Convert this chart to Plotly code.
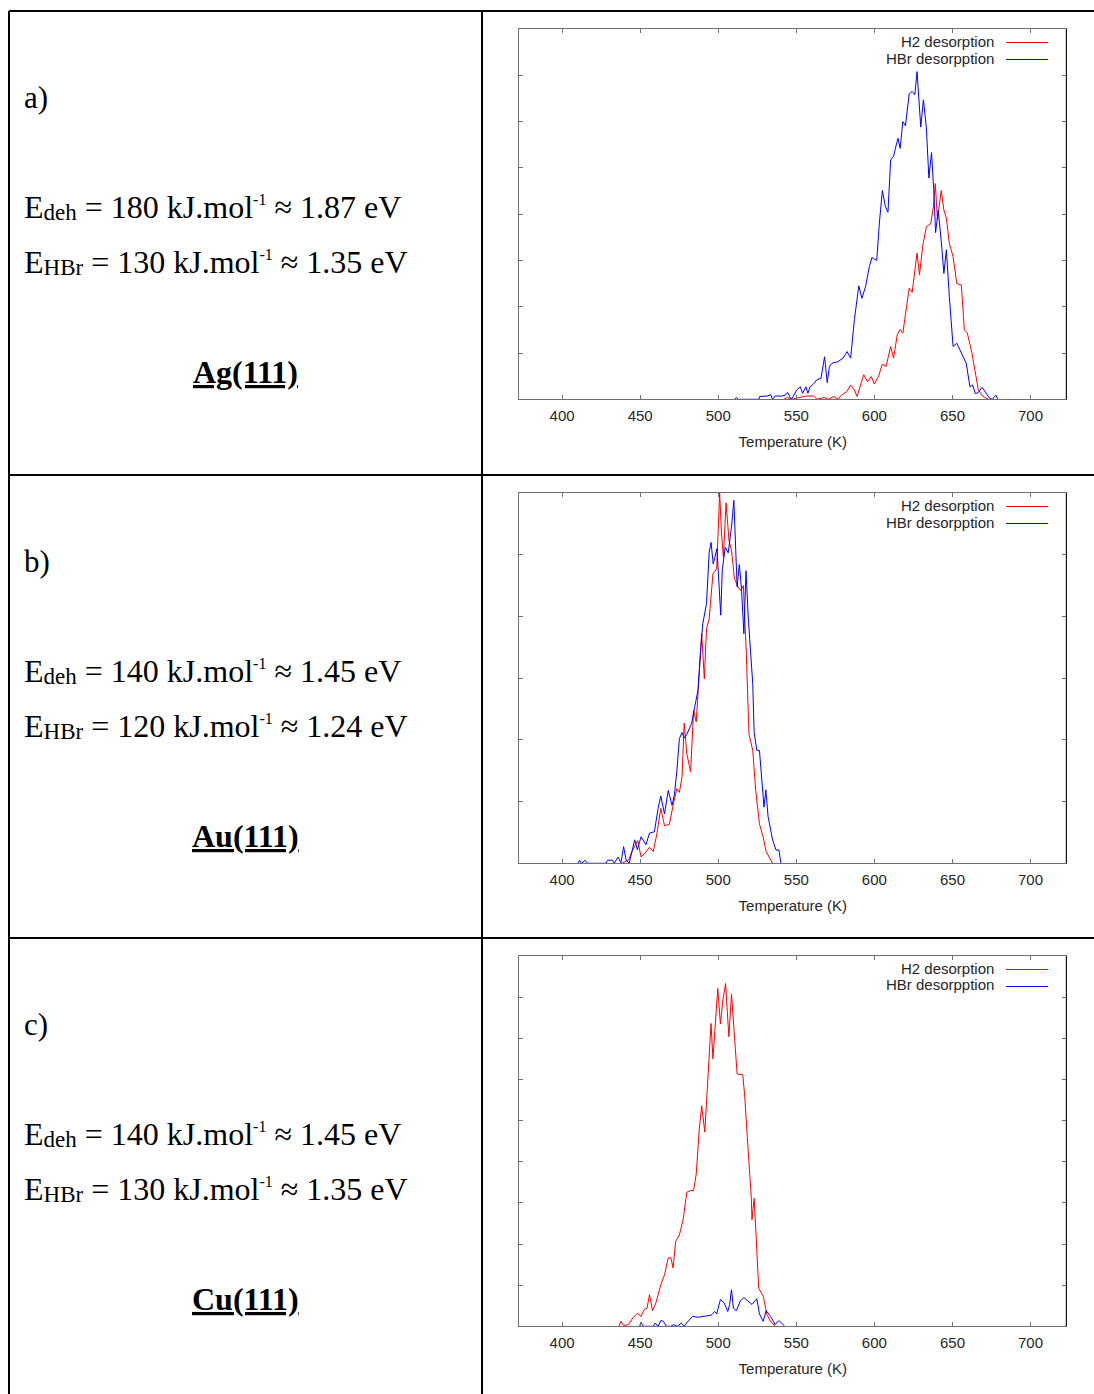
import plotly.graph_objects as go

W, H = 1094, 1394

# ---------------- data ----------------
temp_ticks = [400, 450, 500, 550, 600, 650, 700]
series_names = ["H2 desorption", "HBr desorpption"]
row_letters = ["a)", "b)", "c)"]
surfaces = ["Ag(111)", "Au(111)", "Cu(111)"]
e_deh_kj = [180, 140, 140]
e_deh_ev = ["1.87", "1.45", "1.45"]
e_hbr_kj = [130, 120, 130]
e_hbr_ev = ["1.35", "1.24", "1.35"]
y_max = [8, 6, 9]

# Ag(111)
ag_h2_T = [542.0, 544.3, 547.0, 551.4, 556.2, 561.0, 563.4, 568.1, 570.5, 574.1, 576.5, 578.9, 582.5,
           584.8, 587.2, 588.9, 590.8, 593.2, 595.6, 598.0, 599.9, 602.7, 605.1, 607.5, 610.4, 612.3,
           614.6, 616.5, 618.2, 619.9, 622.3, 624.2, 626.1, 627.3, 628.9, 630.9, 633.3, 636.1, 637.8,
           639.0, 640.4, 641.4, 642.8, 644.5, 646.1, 648.0, 650.4, 652.8, 655.7, 657.6, 659.5, 662.4,
           664.3, 666.6, 669.5, 673.1]
ag_h2_v = [0.0, 0.04, 0.0, 0.03, 0.07, 0.07, 0.0, 0.04, 0.0, 0.06, 0.0, 0.09, 0.17,
           0.31, 0.2, 0.06, 0.27, 0.53, 0.38, 0.49, 0.33, 0.5, 0.76, 0.71, 1.14, 0.89,
           1.39, 1.51, 1.43, 1.86, 2.4, 2.31, 2.83, 3.16, 2.69, 3.3, 3.73, 3.79, 4.17,
           4.66, 3.88, 4.1, 4.51, 4.09, 3.91, 3.37, 3.08, 2.5, 2.47, 1.5, 1.43, 1.01,
           0.63, 0.2, 0.06, 0.0]
ag_hbr_T = [510.4, 511.6, 512.8, 526.0, 526.5, 531.3, 533.6, 534.8, 536.4, 540.7, 543.0, 544.4, 546.7,
            548.0, 550.2, 552.6, 554.0, 556.2, 557.4, 558.8, 561.0, 563.4, 565.8, 568.1, 569.8, 571.2,
            572.9, 576.5, 580.0, 582.5, 584.8, 587.2, 590.0, 592.0, 594.4, 596.8, 598.4, 601.5, 603.2,
            605.1, 607.0, 608.7, 610.4, 612.3, 613.5, 615.1, 616.5, 618.2, 619.9, 622.3, 624.2, 625.9,
            627.3, 628.3, 629.7, 631.4, 633.3, 634.9, 636.6, 638.0, 639.2, 640.9, 642.1, 643.3, 644.5,
            646.1, 648.0, 650.4, 652.8, 655.7, 658.8, 661.2, 662.9, 664.7, 666.6, 669.0, 671.4, 673.8,
            675.5, 677.8, 679.0]
ag_hbr_v = [0.0, 0.04, 0.0, 0.0, 0.06, 0.07, 0.1, 0.0, 0.07, 0.07, 0.09, 0.15, 0.0,
            0.06, 0.2, 0.27, 0.13, 0.27, 0.13, 0.27, 0.33, 0.43, 0.45, 0.92, 0.36, 0.71,
            0.78, 0.81, 0.89, 1.03, 0.89, 1.72, 2.45, 2.18, 2.44, 2.87, 3.06, 3.0, 3.81,
            4.51, 4.17, 4.04, 5.17, 5.25, 5.43, 5.64, 5.42, 6.0, 5.91, 6.6, 6.65, 6.58,
            7.08, 6.47, 5.88, 6.47, 5.86, 4.78, 5.33, 4.53, 3.6, 4.09, 3.73, 3.23, 2.72,
            3.23, 2.22, 1.14, 1.21, 1.01, 0.78, 0.27, 0.31, 0.12, 0.15, 0.26, 0.13, 0.02,
            0.0, 0.09, 0.0]

# Au(111)
au_h2_T = [438.2, 442.5, 445.3, 448.4, 450.6, 453.0, 456.0, 458.4, 460.8, 463.2, 465.6, 468.7, 471.5,
           473.5, 475.1, 476.8, 478.2, 479.9, 482.3, 484.2, 485.9, 487.5, 489.4, 491.1, 492.5, 494.2,
           496.6, 499.0, 500.9, 502.1, 503.3, 505.0, 506.9, 508.5, 510.4, 512.6, 514.4, 516.1, 518.0,
           519.7, 522.1, 524.0, 526.4, 528.8, 530.7, 534.8]
au_h2_v = [0.0, 0.05, 0.22, 0.37, 0.1, 0.16, 0.26, 0.19, 0.49, 0.89, 0.61, 0.63, 0.99,
           1.21, 1.15, 1.39, 2.27, 1.77, 1.48, 2.48, 2.29, 2.99, 3.72, 2.99, 3.8, 3.96,
           4.69, 4.77, 6.0, 5.34, 4.96, 5.84, 5.23, 5.07, 4.61, 4.48, 4.42, 4.5, 3.39,
           2.09, 1.83, 1.18, 0.64, 0.42, 0.19, 0.0]
au_hbr_T = [410.0, 411.2, 412.4, 414.8, 416.2, 428.1, 429.1, 432.2, 433.4, 435.8, 437.7, 439.4, 441.0,
            443.0, 446.5, 448.2, 450.6, 453.7, 456.0, 459.1, 461.5, 463.2, 465.6, 468.0, 470.4, 472.0,
            473.5, 475.1, 476.8, 478.2, 479.9, 483.0, 484.9, 487.0, 488.7, 490.1, 492.5, 494.2, 495.4,
            496.8, 499.2, 500.6, 501.6, 502.6, 504.5, 506.4, 508.5, 510.0, 511.1, 512.1, 513.5, 514.9,
            516.4, 517.8, 519.2, 520.7, 522.1, 523.0, 524.7, 526.4, 528.3, 529.3, 530.5, 531.9, 534.8,
            537.1, 538.8, 540.2]
au_hbr_v = [0.0, 0.05, 0.0, 0.05, 0.0, 0.0, 0.05, 0.05, 0.0, 0.1, 0.01, 0.27, 0.05,
            0.0, 0.38, 0.22, 0.43, 0.3, 0.49, 0.51, 0.89, 1.09, 0.8, 1.18, 0.94, 1.12,
            1.5, 2.02, 2.12, 2.03, 2.09, 2.27, 2.53, 2.8, 3.45, 3.88, 4.21, 5.04, 5.2,
            4.85, 5.1, 4.45, 4.02, 4.76, 5.12, 5.03, 5.45, 5.88, 5.23, 4.48, 4.84, 4.45,
            3.72, 4.74, 3.99, 3.42, 2.91, 2.12, 1.83, 1.83, 1.18, 0.91, 1.19, 0.76, 0.38,
            0.21, 0.22, 0.0]

# Cu(111)
cu_h2_T = [436.3, 437.7, 439.4, 442.5, 445.3, 448.2, 450.6, 452.5, 454.4, 456.0, 457.9, 460.1, 463.2,
           465.6, 468.0, 469.6, 471.1, 472.7, 475.1, 477.5, 479.9, 482.3, 484.2, 485.9, 487.8, 489.4,
           491.4, 493.0, 495.4, 496.6, 498.3, 499.7, 501.4, 503.0, 504.7, 505.9, 506.8, 508.5, 510.4,
           512.1, 515.7, 516.9, 519.2, 521.2, 521.6, 523.0, 524.0, 525.9, 528.8, 531.2, 533.6, 536.4]
cu_h2_v = [0.0, 0.12, 0.02, 0.04, 0.2, 0.32, 0.24, 0.4, 0.44, 0.77, 0.38, 0.57, 1.01,
           1.25, 1.66, 1.67, 1.42, 2.06, 2.22, 2.59, 3.26, 3.3, 3.3, 3.7, 4.77, 5.36,
           4.72, 5.78, 7.36, 6.5, 7.44, 8.21, 7.35, 7.93, 8.33, 7.71, 7.04, 8.07, 7.1,
           6.13, 6.12, 5.62, 4.25, 3.11, 2.59, 3.11, 2.39, 0.93, 0.73, 0.28, 0.12, 0.0]
cu_hbr_T = [449.6, 450.6, 452.0, 458.4, 459.6, 461.5, 463.2, 464.9, 466.8, 469.6, 471.5, 473.9, 476.3,
            478.2, 480.6, 483.5, 487.0, 490.6, 495.4, 497.8, 499.0, 501.4, 503.8, 506.1, 507.3, 508.5,
            509.7, 511.6, 514.0, 516.4, 519.2, 521.6, 524.7, 526.4, 528.8, 530.7, 533.6, 536.4, 538.8,
            542.6]
cu_hbr_v = [0.0, 0.1, 0.0, 0.0, 0.08, 0.0, 0.14, 0.12, 0.0, 0.0, 0.04, 0.0, 0.08,
            0.0, 0.12, 0.24, 0.22, 0.24, 0.27, 0.36, 0.3, 0.65, 0.57, 0.36, 0.53, 0.89,
            0.44, 0.38, 0.61, 0.7, 0.62, 0.53, 0.67, 0.3, 0.12, 0.38, 0.24, 0.04, 0.14,
            0.0]

h2_series = [(ag_h2_T, ag_h2_v), (au_h2_T, au_h2_v), (cu_h2_T, cu_h2_v)]
hbr_series = [(ag_hbr_T, ag_hbr_v), (au_hbr_T, au_hbr_v), (cu_hbr_T, cu_hbr_v)]

# ---------------- layout helpers ----------------
def px(x):
    return x / W


def py(y):
    return 1 - y / H


RED = "#ff0000"
BLUE = "#0000ff"
AXIS_GREY = "#707070"
TXT = "#262626"
SANS = "Liberation Sans, Arial, sans-serif"
SERIF = "Liberation Serif, Times New Roman, serif"

row_off = [0, 464, 927]
plot_left, plot_right = 519.3, 1066.3
plot_top0, plot_h = 29.0, 370.3

fig = go.Figure()
layout = dict(
    width=W, height=H,
    margin=dict(l=0, r=0, t=0, b=0),
    paper_bgcolor="white", plot_bgcolor="white",
    showlegend=False,
    shapes=[], annotations=[],
)

for i in range(3):
    sfx = "" if i == 0 else str(i + 1)
    xa, ya = "x" + sfx, "y" + sfx
    top = plot_top0 + row_off[i]
    bot = top + plot_h
    layout["xaxis" + sfx] = dict(
        domain=[px(plot_left), px(plot_right)], anchor=ya,
        range=[372.6, 722.9], tickvals=temp_ticks, ticktext=[str(t) for t in temp_ticks],
        ticks="inside", ticklen=4, tickcolor=AXIS_GREY, tickwidth=1,
        showline=True, linecolor=AXIS_GREY, linewidth=1, mirror="ticks",
        showgrid=False, zeroline=False,
        tickfont=dict(family=SANS, size=15, color=TXT),
        ticklabelstandoff=3,
        title=dict(text="Temperature (K)", font=dict(family=SANS, size=15, color=TXT), standoff=13),
        fixedrange=True,
    )
    layout["yaxis" + sfx] = dict(
        domain=[py(bot), py(top)], anchor=xa,
        range=[0, y_max[i]], tick0=0, dtick=1,
        ticks="inside", ticklen=4, tickcolor=AXIS_GREY, tickwidth=1,
        showline=True, linecolor=AXIS_GREY, linewidth=1, mirror="ticks",
        showgrid=False, zeroline=False, showticklabels=False,
        fixedrange=True,
    )
    # darker right edge of the frame
    layout["shapes"].append(dict(type="line", xref=xa + " domain", yref=ya + " domain",
                                 x0=1, x1=1, y0=0, y1=1, line=dict(color="#000000", width=1)))

    h2T, h2v = h2_series[i]
    hbT, hbv = hbr_series[i]
    fig.add_trace(go.Scatter(x=h2T, y=h2v, mode="lines", name=series_names[0],
                             line=dict(color=RED, width=1), xaxis=xa, yaxis=ya, cliponaxis=True))
    fig.add_trace(go.Scatter(x=hbT, y=hbv, mode="lines", name=series_names[1],
                             line=dict(color=BLUE, width=1), xaxis=xa, yaxis=ya, cliponaxis=True))

    # legend (text on the left, line sample on the right)
    for k, (name, col) in enumerate(zip(series_names, [RED, BLUE])):
        yc = top + 12 + 17 * k
        layout["annotations"].append(dict(
            xref="paper", yref="paper", x=px(996), y=py(yc), xanchor="right", yanchor="middle",
            text=name, showarrow=False, font=dict(family=SANS, size=15, color=TXT)))
        layout["shapes"].append(dict(type="line", xref="paper", yref="paper",
                                     x0=px(1006), x1=px(1048), y0=py(yc + 1.5), y1=py(yc + 1.5),
                                     line=dict(color=col, width=1.2)))

    # left-column text
    o = row_off[i]
    sub = lambda s: '<span style="font-size:23px;baseline-shift:-2px">' + s + '</span>'
    sup = '<sup><span style="font-size:16px">-1</span></sup>'
    layout["annotations"].append(dict(
        xref="paper", yref="paper", x=px(22), y=py(97 + o), xanchor="left", yanchor="middle",
        text=row_letters[i], showarrow=False, font=dict(family=SERIF, size=31, color="#000")))
    layout["annotations"].append(dict(
        xref="paper", yref="paper", x=px(22), y=py(207 + o), xanchor="left", yanchor="middle",
        text="E" + sub("deh") + " = " + str(e_deh_kj[i]) + " kJ.mol" + sup + " ≈ " + e_deh_ev[i] + " eV",
        showarrow=False, font=dict(family=SERIF, size=32, color="#000")))
    layout["annotations"].append(dict(
        xref="paper", yref="paper", x=px(22), y=py(262 + o), xanchor="left", yanchor="middle",
        text="E" + sub("HBr") + " = " + str(e_hbr_kj[i]) + " kJ.mol" + sup + " ≈ " + e_hbr_ev[i] + " eV",
        showarrow=False, font=dict(family=SERIF, size=32, color="#000")))
    layout["annotations"].append(dict(
        xref="paper", yref="paper", x=px(245), y=py(372 + o), xanchor="center", yanchor="middle",
        text="<b><u>" + surfaces[i] + "</u></b>", showarrow=False,
        font=dict(family=SERIF, size=32, color="#000")))

# table borders
for (x0, y0, x1, y1) in [(9, 11, W, 11), (9, 11, 9, H), (482, 11, 482, H), (9, 475, W, 475), (9, 938, W, 938)]:
    layout["shapes"].append(dict(type="line", xref="paper", yref="paper",
                                 x0=px(x0), y0=py(y0), x1=px(x1), y1=py(y1),
                                 line=dict(color="#000000", width=2)))

fig.update_layout(**layout)
fig.write_html("out.html")
